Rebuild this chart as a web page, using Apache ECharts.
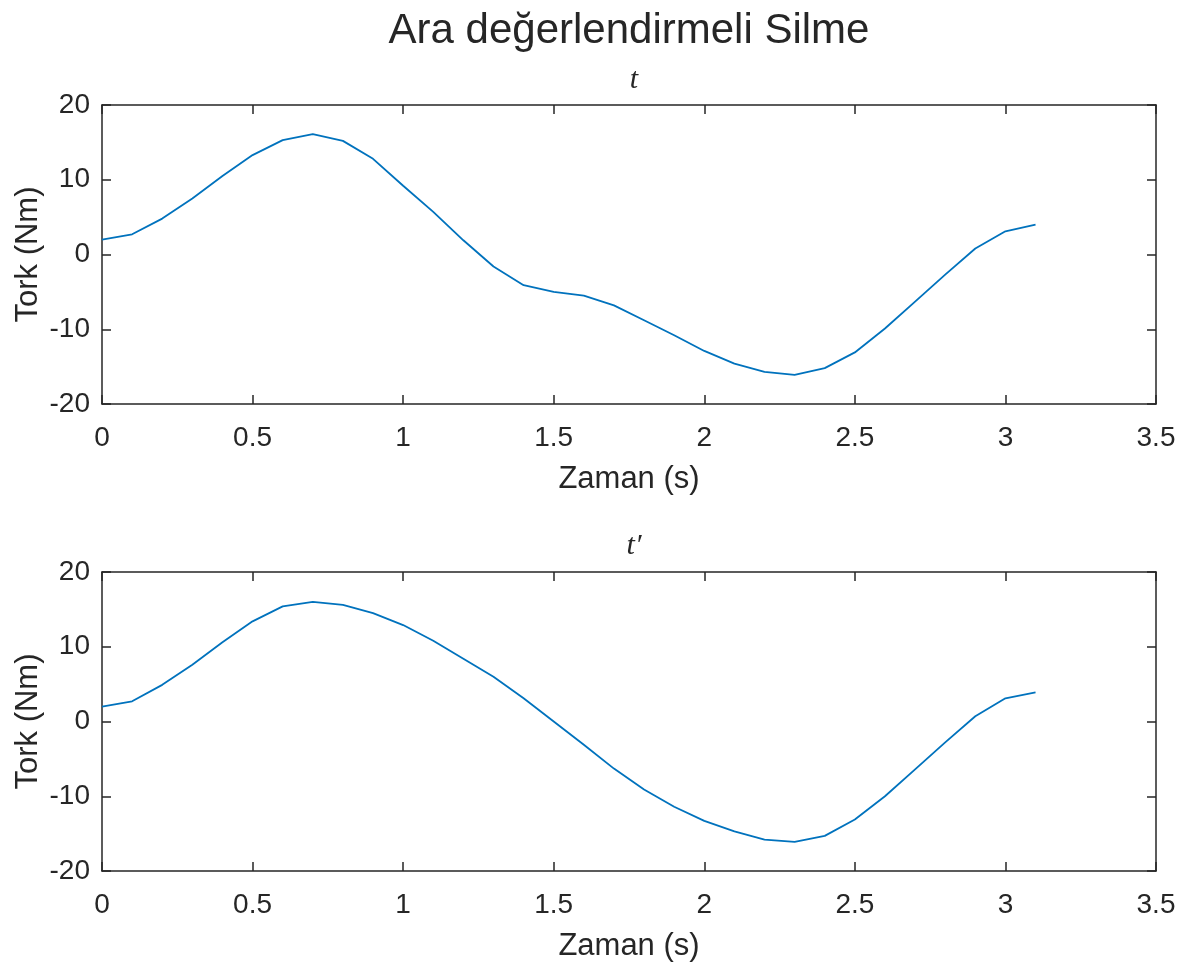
<!DOCTYPE html>
<html>
<head>
<meta charset="utf-8">
<title>Ara değerlendirmeli Silme</title>
<script src="https://cdn.jsdelivr.net/npm/echarts@6/dist/echarts.min.js"></script>
<style>
  html, body { margin: 0; padding: 0; background: #fff; }
  #chart { width: 1194px; height: 970px; }
</style>
</head>
<body>
<div id="chart"></div>
<script>
// zaman ekseni (s)
var zaman = [0, 0.1, 0.2, 0.3, 0.4, 0.5, 0.6, 0.7, 0.8, 0.9, 1.0, 1.1, 1.2, 1.3, 1.4, 1.5,
             1.6, 1.7, 1.8, 1.9, 2.0, 2.1, 2.2, 2.3, 2.4, 2.5, 2.6, 2.7, 2.8, 2.9, 3.0, 3.1];
// ust grafik: t
var torkT = [2.0, 2.7, 4.8, 7.5, 10.5, 13.3, 15.3, 16.1, 15.2, 12.8, 9.2, 5.7, 1.9, -1.6, -4.1, -5.0,
             -5.5, -6.8, -8.8, -10.8, -12.9, -14.6, -15.7, -16.1, -15.2, -13.1, -9.9, -6.3, -2.7, 0.8, 3.1, 4.0];
// alt grafik: t'
var torkT2 = [2.0, 2.7, 4.9, 7.6, 10.6, 13.4, 15.4, 16.0, 15.6, 14.5, 12.9, 10.8, 8.4, 6.0, 3.1, 0.0,
              -3.1, -6.3, -9.1, -11.4, -13.3, -14.7, -15.8, -16.1, -15.3, -13.1, -10.0, -6.4, -2.8, 0.7, 3.1, 3.9];

var anaBaslik = 'Ara değerlendirmeli Silme';
var altBasliklar = ['t', 't\u2032'];
var xEtiket = 'Zaman (s)';
var yEtiket = 'Tork (Nm)';

var axisColor = '#262626';
var fontName = '"Liberation Sans", Arial, Helvetica, sans-serif';

function pairs(xs, ys) {
  return xs.map(function (x, i) { return [x, ys[i]]; });
}

function xAxisFor(gridIndex, isTop) {
  return {
    type: 'value', gridIndex: gridIndex, position: isTop ? 'top' : 'bottom',
    min: 0, max: 3.5, interval: 0.5,
    name: isTop ? '' : xEtiket,
    nameLocation: 'middle', nameGap: 75, nameMoveOverlap: false,
    nameTextStyle: { fontSize: 31, color: axisColor, fontFamily: fontName, verticalAlign: 'middle' },
    axisLine: { show: true, onZero: false, lineStyle: { color: axisColor, width: 1.5 } },
    axisTick: { show: true, inside: true, length: 9, lineStyle: { color: axisColor, width: 1.5 } },
    axisLabel: { show: !isTop, fontSize: 28, color: axisColor, fontFamily: fontName, margin: 20, verticalAlign: 'top' },
    splitLine: { show: false }
  };
}

function yAxisFor(gridIndex, isRight) {
  return {
    type: 'value', gridIndex: gridIndex, position: isRight ? 'right' : 'left',
    min: -20, max: 20, interval: 10,
    name: isRight ? '' : yEtiket,
    nameLocation: 'middle', nameGap: 74, nameRotate: 90, nameMoveOverlap: false,
    nameTextStyle: { fontSize: 31, color: axisColor, fontFamily: fontName, verticalAlign: 'middle' },
    axisLine: { show: true, onZero: false, lineStyle: { color: axisColor, width: 1.5 } },
    axisTick: { show: true, inside: true, length: 9, lineStyle: { color: axisColor, width: 1.5 } },
    axisLabel: { show: !isRight, fontSize: 28, color: axisColor, fontFamily: fontName, margin: 12 },
    splitLine: { show: false }
  };
}

function lineSeries(axisIndex, values) {
  return {
    type: 'line', xAxisIndex: axisIndex, yAxisIndex: axisIndex,
    data: pairs(zaman, values),
    symbol: 'none', smooth: false,
    lineStyle: { color: '#0072BD', width: 1.8 },
    animation: false
  };
}

var chart = echarts.init(document.getElementById('chart'), null, { renderer: 'canvas' });
chart.setOption({
  backgroundColor: '#ffffff',
  animation: false,
  title: [
    { text: anaBaslik, left: 624, top: 5, textAlign: 'center',
      textStyle: { fontSize: 42, fontWeight: 'normal', color: axisColor, fontFamily: fontName } },
    { text: altBasliklar[0], left: 629, top: 60, textAlign: 'center',
      textStyle: { fontSize: 30, fontWeight: 'normal', fontStyle: 'italic', color: axisColor, fontFamily: '"Liberation Serif", "DejaVu Serif", serif' } },
    { text: altBasliklar[1], left: 629, top: 526, textAlign: 'center',
      textStyle: { fontSize: 30, fontWeight: 'normal', fontStyle: 'italic', color: axisColor, fontFamily: '"Liberation Serif", "DejaVu Serif", serif' } }
  ],
  grid: [
    { left: 102, width: 1054, top: 105, height: 299 },
    { left: 102, width: 1054, top: 572, height: 299 }
  ],
  xAxis: [xAxisFor(0, false), xAxisFor(0, true), xAxisFor(1, false), xAxisFor(1, true)],
  yAxis: [yAxisFor(0, false), yAxisFor(0, true), yAxisFor(1, false), yAxisFor(1, true)],
  series: [lineSeries(0, torkT), lineSeries(2, torkT2)]
});
</script>
</body>
</html>
